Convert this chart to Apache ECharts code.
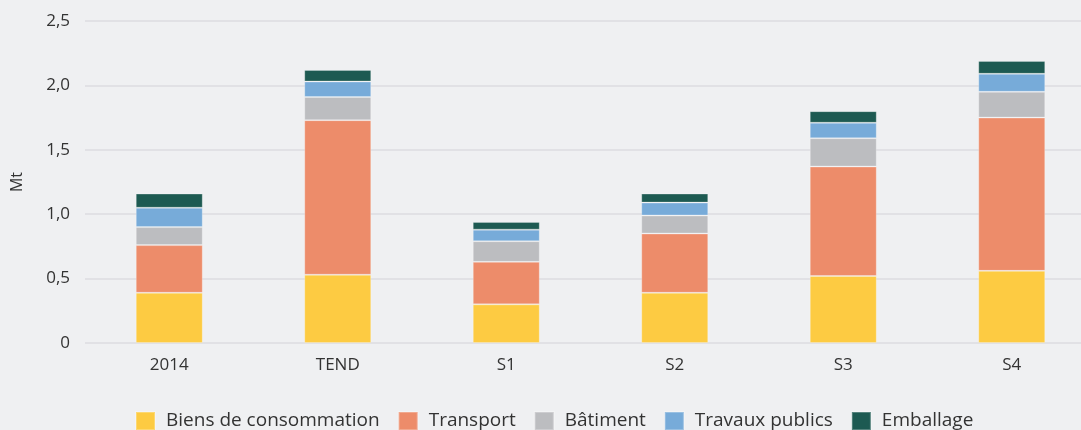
<!DOCTYPE html>
<html>
<head>
<meta charset="utf-8">
<script src="https://cdn.jsdelivr.net/npm/echarts@6/dist/echarts.min.js"></script>
<style>
  html, body { margin: 0; padding: 0; background: #eff0f2; }
  #chart { width: 1081px; height: 430px; }
</style>
</head>
<body>
<div id="chart"></div>
<script>
// scénarios
const categories = ['2014', 'TEND', 'S1', 'S2', 'S3', 'S4']
const seriesNames = ['Biens de consommation', 'Transport', 'Bâtiment', 'Travaux publics', 'Emballage']
const biens = [0.39, 0.53, 0.30, 0.39, 0.52, 0.56]
const transport = [0.37, 1.20, 0.33, 0.46, 0.85, 1.19]
const batiment = [0.14, 0.18, 0.16, 0.14, 0.22, 0.20]
const travaux = [0.15, 0.12, 0.09, 0.10, 0.12, 0.14]
const emballage = [0.11, 0.09, 0.06, 0.07, 0.09, 0.10]
const colors = ['#fdcb42', '#ed8c6a', '#bcbdc0', '#77abd9', '#1d5a52']

const chart = echarts.init(document.getElementById('chart'))
const font = '"Open Sans", sans-serif'
const data = [biens, transport, batiment, travaux, emballage]

const option = {
  backgroundColor: '#eff0f2',
  color: colors,
  textStyle: { fontFamily: font },
  grid: { left: 85, width: 1011, top: 21, bottom: 87, outerBoundsMode: 'none' },
  legend: {
    data: seriesNames,
    left: 135,
    top: 411,
    padding: 0,
    icon: 'rect',
    itemWidth: 19,
    itemHeight: 18,
    itemGap: 18,
    textStyle: { fontSize: 19, color: '#333', fontFamily: font, padding: [0, 0, 0, 6] }
  },
  xAxis: {
    type: 'category',
    data: categories,
    axisLine: { show: false },
    axisTick: { show: false },
    axisLabel: { color: '#333', fontSize: 17, margin: 14 }
  },
  yAxis: {
    type: 'value',
    min: 0,
    max: 2.5,
    interval: 0.5,
    name: 'Mt',
    nameLocation: 'middle',
    nameGap: 60,
    nameTextStyle: { color: '#333', fontSize: 16 },
    axisLabel: {
      color: '#333',
      fontSize: 17,
      margin: 15,
      formatter: v => v === 0 ? '0' : v.toFixed(1).replace('.', ',')
    },
    splitLine: { lineStyle: { color: '#dcdde0', width: 1.5 } }
  },
  series: seriesNames.map((name, i) => ({
    name: name,
    type: 'bar',
    stack: 'total',
    barWidth: 67,
    data: data[i],
    itemStyle: { borderColor: 'rgba(255,255,255,0.25)', borderWidth: 1 }
  }))
}
chart.setOption(option)
</script>
</body>
</html>
